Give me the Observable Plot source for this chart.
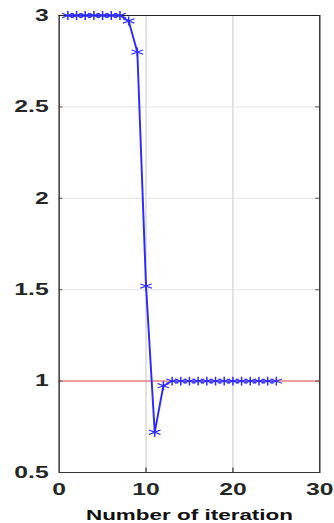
<!DOCTYPE html>
<html>
<head>
<meta charset="utf-8">
<script src="https://cdn.jsdelivr.net/npm/d3@7"></script>
<script src="https://cdn.jsdelivr.net/npm/@observablehq/plot@0.6"></script>
<style>
  html, body { margin: 0; padding: 0; background: #fff; overflow: hidden; }
  #chart { width: 334px; height: 523px; overflow: hidden; }
  #chart svg { transform-origin: 0 0; display: block; }
</style>
</head>
<body>
<div id="chart"></div>
<script>
// Data
const iterations = [1,2,3,4,5,6,7,8,9,10,11,12,13,14,15,16,17,18,19,20,21,22,23,24,25];
const values     = [3,3,3,3,3,3,3,2.97,2.80,1.52,0.72,0.975,1,1,1,1,1,1,1,1,1,1,1,1,1];
const reference  = [1];
const xTicks = [0, 10, 20, 30];
const yTicks = [0.5, 1, 1.5, 2, 2.5, 3];
const xLabel = "Number of iteration";

const data = iterations.map((x, i) => ({x, y: values[i]}));

// The reference image is horizontally stretched; draw narrower and stretch.
const stretch = 1.5;
const W = Math.round(334 / stretch);
const font = "'Liberation Sans', Arial, sans-serif";
const fmt = d => String(d);

const chart = Plot.plot({
  width: W,
  height: 523,
  marginLeft: 39,
  marginRight: 10,
  marginTop: 15,
  marginBottom: 51,
  style: {fontFamily: font, fontWeight: "bold", background: "#fff", overflow: "visible"},
  x: {domain: [0, 30], ticks: xTicks},
  y: {domain: [0.5, 3], ticks: yTicks},
  marks: [
    Plot.gridX(xTicks.slice(1, -1), {stroke: "#d9d9d9", strokeOpacity: 1, strokeWidth: 1}),
    Plot.gridY(yTicks.slice(1, -1), {stroke: "#e3e3e3", strokeOpacity: 1, strokeWidth: 1}),
    Plot.ruleY(reference, {stroke: "#e8504a", strokeWidth: 1}),
    // inward ticks
    Plot.ruleY(yTicks.slice(1, -1), {x1: 0, x2: 0.45, stroke: "#555", strokeWidth: 1}),
    Plot.ruleY(yTicks.slice(1, -1), {x1: 29.55, x2: 30, stroke: "#555", strokeWidth: 1}),
    Plot.ruleX(xTicks.slice(1, -1), {y1: 0.5, y2: 0.525, stroke: "#555", strokeWidth: 1}),
    Plot.frame({stroke: "#3a3a3a", strokeWidth: 1}),
    Plot.ruleY([3], {stroke: "#222", strokeWidth: 1}),
    Plot.line(data, {x: "x", y: "y", stroke: "#2b2bff", strokeWidth: 1.3}),
    Plot.dot(data, {x: "x", y: "y", symbol: "asterisk", r: 4.2, stroke: "#2b2bff", strokeWidth: 1}),
    Plot.axisY(yTicks, {tickSize: 0, tickPadding: 7, fontSize: 16.5, fill: "#262626", label: null, tickFormat: fmt}),
    Plot.axisX(xTicks, {tickSize: 0, tickPadding: 11, fontSize: 16.5, fill: "#262626", label: null, tickFormat: fmt}),
    Plot.text([xLabel], {frameAnchor: "bottom", dy: 37, fontSize: 15, fontWeight: "bold", fill: "#111", lineAnchor: "top"})
  ]
});

chart.style.transform = `scale(${334 / W}, 1)`;
document.getElementById("chart").appendChild(chart);
</script>
</body>
</html>
